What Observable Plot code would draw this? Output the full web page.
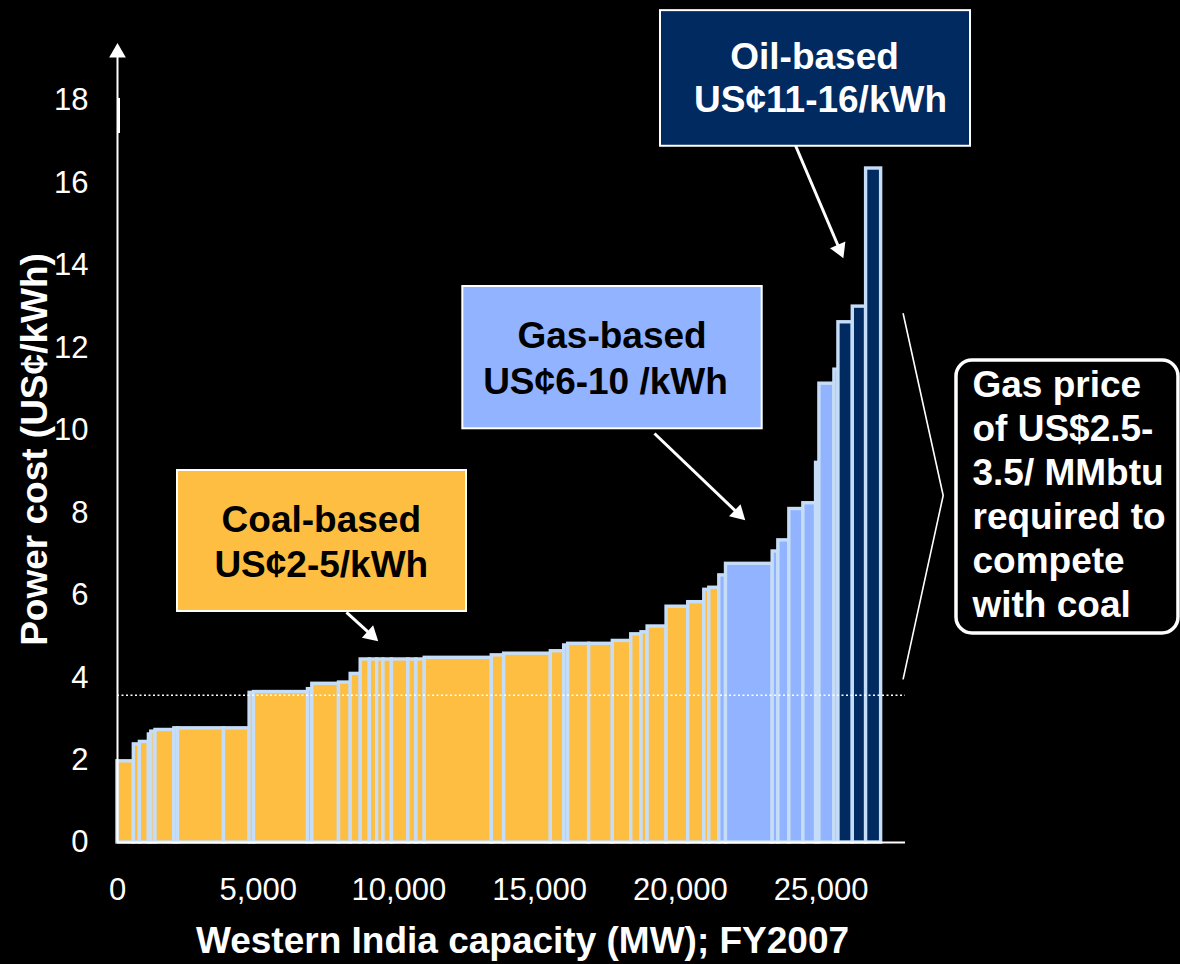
<!DOCTYPE html>
<html><head><meta charset="utf-8">
<script src="https://cdn.jsdelivr.net/npm/d3@7"></script>
<script src="https://cdn.jsdelivr.net/npm/@observablehq/plot@0.6"></script>
<style>
html,body{margin:0;padding:0;background:#000;}
#chart{width:1180px;height:964px;overflow:hidden;}
</style></head><body><div id="chart"></div>
<script>
// ---- data ----
const capacityMW = [580,215,320,85,150,670,130,1632,912,154,1920,154,948,416,355,
  325,262,222,300,587,285,295,2383,438,1660,474,142,746,840,655,365,217,673,770,570,178,356,238,
  1659,201,391,498,451,119,533,143,
  510,473,534];
const costUSc = [1.97,2.38,2.44,2.62,2.69,2.73,2.77,2.77,2.77,3.63,3.65,3.72,3.85,3.88,4.09,
  4.44,4.44,4.44,4.44,4.44,4.44,4.44,4.48,4.54,4.58,4.64,4.78,4.82,4.82,4.89,5.05,5.10,5.24,5.72,5.83,6.13,6.18,6.48,
  6.76,7.06,7.33,8.09,8.23,9.21,11.13,11.47,
  12.62,13.00,16.35];
const fuel = ["Coal","Coal","Coal","Coal","Coal","Coal","Coal","Coal","Coal","Coal","Coal","Coal","Coal","Coal","Coal",
  "Coal","Coal","Coal","Coal","Coal","Coal","Coal","Coal","Coal","Coal","Coal","Coal","Coal","Coal","Coal","Coal","Coal","Coal","Coal","Coal","Coal","Coal","Gas",
  "Gas","Gas","Gas","Gas","Gas","Gas","Gas","Gas",
  "Oil","Oil","Oil"];
const xTicks = [0, 5000, 10000, 15000, 20000, 25000];
const yTicks = [0, 2, 4, 6, 8, 10, 12, 14, 16, 18];
const coalParityCost = 3.57;
const xTitle = "Western India capacity (MW); FY2007";
const yTitle = "Power cost (US¢/kWh)";
const fuelLabels = {
  Coal: ["Coal-based", "US¢2-5/kWh"],
  Gas: ["Gas-based", "US¢6-10 /kWh"],
  Oil: ["Oil-based", "US¢11-16/kWh"]
};
const noteLines = ["Gas price", "of US$2.5-", "3.5/ MMbtu", "required to", "compete", "with coal"];

// ---- styles & layout ----
const W = 1180, H = 964;
const M = {left: 117, right: 275, top: 100, bottom: 122};
const xDomain = [0, 28000], yDomain = [0, 18];
const fills = {Coal: "#FDBE41", Gas: "#92B3FF", Oil: "#002A60"};
const textFill = {Coal: "#000", Gas: "#000", Oil: "#fff"};
const outline = "#C6DDF7";
const FONT = "'Liberation Sans', Arial, Helvetica, sans-serif";

// annotation placement (data units)
const callouts = [
  {fuel: "Coal", box: [2132, 12401, 5.604, 9.024], lines: [[7242, 7.528], [7242, 6.436]], arrow: [8137, 5.58, 9274, 4.876]},
  {fuel: "Gas", box: [12270, 22908, 10.036, 13.488], lines: [[17575, 11.984], [17340, 10.892]], arrow: [19081, 9.922, 22315, 7.811]},
  {fuel: "Oil", box: [19294, 30310, 16.89, 20.18], lines: [[24767, 18.769], [24980, 17.716]], arrow: [24091, 16.909, 25797, 14.167]}
];
const bracket = [{x: 27918, y: 12.826}, {x: 29339, y: 8.418}, {x: 27918, y: 3.971}];
const noteBox = {x1: 29812, x2: 37700, y1: 5.07, y2: 11.693};
const noteAnchor = {x: 30380, y: 5.466};

// ---- build tables ----
let acc = 0;
const bars = capacityMW.map((w, i) => {
  const x1 = acc; acc += w;
  return {x1, x2: acc, cost: costUSc[i], fuel: fuel[i]};
});

const sx = Plot.scale({x: {domain: xDomain, range: [M.left, W - M.right]}});
const sy = Plot.scale({y: {domain: yDomain, range: [H - M.bottom, M.top]}});

const boxRows = callouts.map(c => ({fuel: c.fuel, x1: c.box[0], x2: c.box[1], y1: c.box[2], y2: c.box[3]}));
const labelRows = callouts.flatMap(c => c.lines.map((p, i) => ({x: p[0], y: p[1], text: fuelLabels[c.fuel][i], fuel: c.fuel})));
const headLen = 15;
const arrows = callouts.map(c => {
  const [ax1, ay1, ax2, ay2] = c.arrow;
  const p0 = [sx.apply(ax1), sy.apply(ay1)], p1 = [sx.apply(ax2), sy.apply(ay2)];
  const dx = p1[0] - p0[0], dy = p1[1] - p0[1], L = Math.hypot(dx, dy);
  const ux = dx / L, uy = dy / L;
  return {
    x1: ax1, y1: ay1,
    x2: sx.invert(p1[0] - ux * headLen * 0.6), y2: sy.invert(p1[1] - uy * headLen * 0.6),
    hx: sx.invert(p1[0] - ux * headLen * 2 / 3), hy: sy.invert(p1[1] - uy * headLen * 2 / 3),
    rot: Math.atan2(ux, -uy) * 180 / Math.PI
  };
});
const axisTop = 19.1;
const axisHead = [{x: 0, y: 19.16}];

const chart = Plot.plot({
  width: W, height: H,
  marginLeft: M.left, marginRight: M.right, marginTop: M.top, marginBottom: M.bottom,
  x: {domain: xDomain},
  y: {domain: yDomain},
  color: {type: "identity"},
  style: {background: "#000", color: "#fff", fontFamily: FONT, overflow: "visible"},
  marks: [
    Plot.rect(bars, {x1: "x1", x2: "x2", y1: 0, y2: "cost", fill: d => fills[d.fuel], stroke: outline, strokeWidth: 3.4}),
    Plot.ruleY([coalParityCost], {x1: xDomain[0], x2: xDomain[1], stroke: "#fff", strokeWidth: 1.5, strokeDasharray: "2,2.5"}),
    Plot.ruleY([0], {x1: xDomain[0], x2: xDomain[1], stroke: "#fff", strokeWidth: 2}),
    Plot.ruleX([0], {y1: 0, y2: axisTop, stroke: "#fff", strokeWidth: 2}),
    Plot.ruleX([0], {y1: 17.2, y2: 18.05, stroke: "#fff", strokeWidth: 3, dx: 1}),
    Plot.dot(axisHead, {x: "x", y: "y", symbol: "triangle", r: 6.2, fill: "#fff", stroke: null}),
    // callout boxes
    Plot.rect(boxRows, {x1: "x1", x2: "x2", y1: "y1", y2: "y2", fill: d => fills[d.fuel], stroke: "#fff", strokeWidth: 2}),
    Plot.text(labelRows, {x: "x", y: "y", text: "text", fill: d => textFill[d.fuel], lineAnchor: "bottom", fontSize: 37, fontWeight: "bold"}),
    Plot.link(arrows, {x1: "x1", y1: "y1", x2: "x2", y2: "y2", stroke: "#fff", strokeWidth: 3}),
    Plot.dot(arrows, {x: "hx", y: "hy", rotate: "rot", symbol: "triangle", r: 6.2, fill: "#fff", stroke: null}),
    // gas-price note
    Plot.line(bracket, {x: "x", y: "y", stroke: "#fff", strokeWidth: 1.6}),
    Plot.rect([noteBox], {x1: "x1", x2: "x2", y1: "y1", y2: "y2", rx: 16, fill: "#000", stroke: "#fff", strokeWidth: 3.5}),
    Plot.text([noteLines.join("\n")], {x: noteAnchor.x, y: noteAnchor.y, textAnchor: "start", lineAnchor: "bottom", lineHeight: 44 / 37, fontSize: 37, fontWeight: "bold", fill: "#fff"}),
    // axes
    Plot.axisX(xTicks, {tickFormat: d3.format(","), tickSize: 0, tickPadding: 35, fontSize: 31, label: null, fill: "#fff"}),
    Plot.axisY(yTicks, {tickSize: 0, tickPadding: 29, fontSize: 31, label: null, fill: "#fff"}),
    Plot.text([xTitle], {frameAnchor: "bottom", textAnchor: "middle", dx: 11, dy: 110, lineAnchor: "bottom", fontSize: 37, fontWeight: "bold", fill: "#fff"}),
    Plot.text([yTitle], {frameAnchor: "left", textAnchor: "middle", rotate: -90, dx: -71, dy: -22, lineAnchor: "bottom", fontSize: 37, fontWeight: "bold", fill: "#fff"})
  ]
});
document.getElementById("chart").appendChild(chart);
</script>
</body></html>
